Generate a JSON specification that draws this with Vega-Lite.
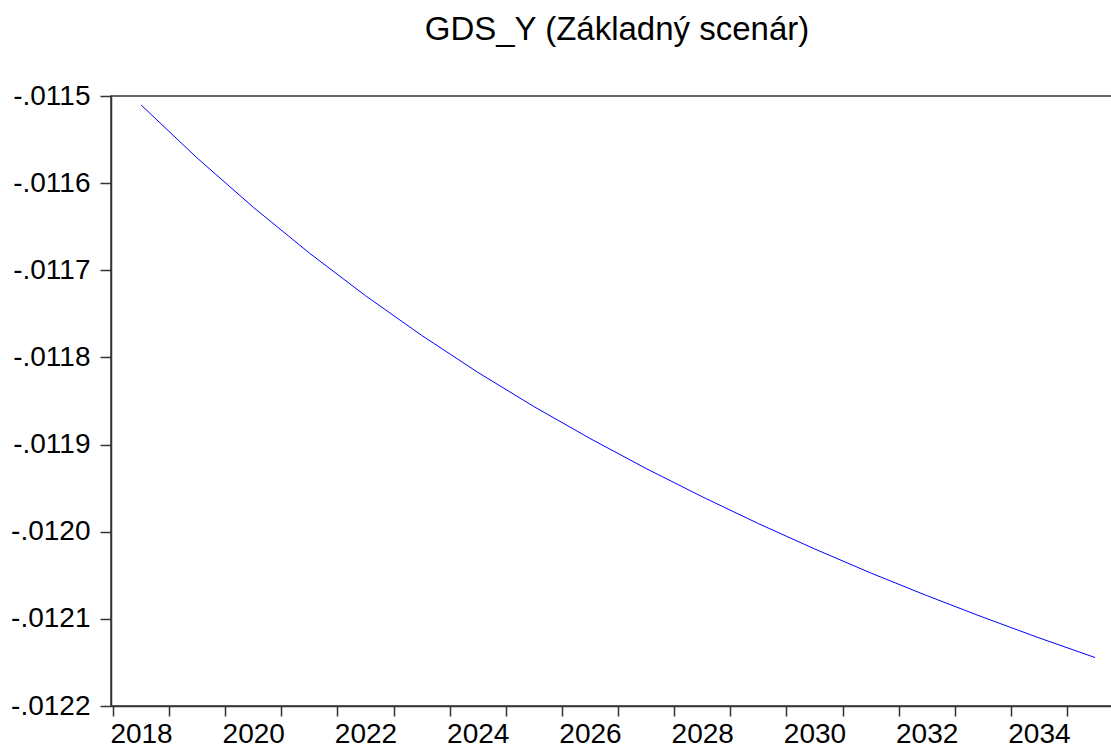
{
  "$schema": "https://vega.github.io/schema/vega-lite/v6.json",
  "width": 1012,
  "height": 610,
  "autosize": "none",
  "padding": {"left": 111, "top": 96, "right": 0, "bottom": 46},
  "background": "white",
  "title": {
    "text": "GDS_Y (Základný scenár)",
    "font": "Liberation Sans",
    "fontSize": 33,
    "fontWeight": "normal",
    "color": "black",
    "anchor": "middle",
    "offset": 35
  },
  "config": {
    "view": {"stroke": "#333333", "strokeWidth": 1.5}
  },
  "data": {
    "values": [
      {"year": 2018, "value": -0.0115103},
      {"year": 2019, "value": -0.0115712},
      {"year": 2020, "value": -0.0116277},
      {"year": 2021, "value": -0.0116803},
      {"year": 2022, "value": -0.0117292},
      {"year": 2023, "value": -0.0117747},
      {"year": 2024, "value": -0.0118171},
      {"year": 2025, "value": -0.0118564},
      {"year": 2026, "value": -0.0118930},
      {"year": 2027, "value": -0.0119275},
      {"year": 2028, "value": -0.0119599},
      {"year": 2029, "value": -0.0119907},
      {"year": 2030, "value": -0.0120197},
      {"year": 2031, "value": -0.0120473},
      {"year": 2032, "value": -0.0120733},
      {"year": 2033, "value": -0.0120981},
      {"year": 2034, "value": -0.0121218},
      {"year": 2035, "value": -0.0121444}
    ]
  },
  "mark": {"type": "line", "color": "#0000FF", "strokeWidth": 1, "clip": true},
  "encoding": {
    "x": {
      "field": "year",
      "type": "quantitative",
      "scale": {"domain": [2017.464, 2035.497], "nice": false, "zero": false},
      "axis": {
        "title": null,
        "grid": false,
        "values": [2017.5, 2018.5, 2019.5, 2020.5, 2021.5, 2022.5, 2023.5, 2024.5, 2025.5, 2026.5, 2027.5, 2028.5, 2029.5, 2030.5, 2031.5, 2032.5, 2033.5, 2034.5],
        "labelExpr": "(datum.value + 0.5) % 2 == 0 ? format(datum.value + 0.5, 'd') : ''",
        "labelOffset": 28,
        "labelFlush": false,
        "labelOverlap": false,
        "labelFont": "Liberation Sans",
        "labelFontSize": 28,
        "labelColor": "black",
        "labelPadding": 4,
        "tickSize": 10,
        "tickWidth": 1.5,
        "tickColor": "#333333",
        "domainColor": "#333333",
        "domainWidth": 1.5
      }
    },
    "y": {
      "field": "value",
      "type": "quantitative",
      "scale": {"domain": [-0.0122, -0.0115], "nice": false, "zero": false},
      "axis": {
        "title": null,
        "grid": false,
        "values": [-0.0115, -0.0116, -0.0117, -0.0118, -0.0119, -0.012, -0.0121, -0.0122],
        "labelExpr": "'-' + replace(format(abs(datum.value), '.4f'), '0.', '.')",
        "labelFlush": false,
        "labelOverlap": false,
        "labelFont": "Liberation Sans",
        "labelFontSize": 28,
        "labelColor": "black",
        "labelPadding": 10,
        "tickSize": 11,
        "tickWidth": 1.5,
        "tickColor": "#333333",
        "domainColor": "#333333",
        "domainWidth": 1.5
      }
    }
  }
}
